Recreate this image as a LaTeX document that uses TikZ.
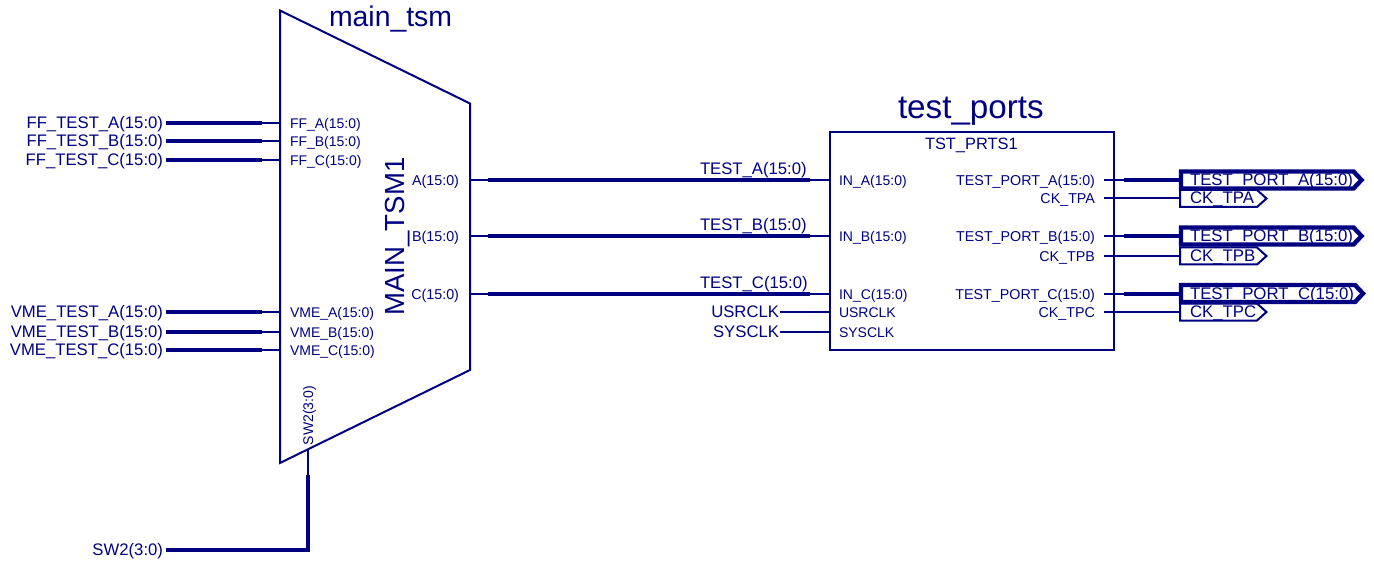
\documentclass[tikz,border=0pt]{standalone}
\usepackage{fontspec}
\setmainfont{Liberation Sans}
\definecolor{navy}{RGB}{0,0,128}
\newcommand{\fsz}[1]{\fontsize{#1pt}{#1pt}\selectfont}
\tikzset{
  lab/.style={text=navy,inner sep=0pt,outer sep=0pt},
  netlab/.style={lab,font=\fsz{16.7},anchor=base east},
  wirelab/.style={lab,font=\fsz{16.7},anchor=base west},
  pinl/.style={lab,font=\fsz{14},anchor=base west},
  pinr/.style={lab,font=\fsz{14.3},anchor=base east},
  thinw/.style={draw=navy,line width=2pt},
  thickw/.style={draw=navy,line width=4pt},
  body/.style={draw=navy,line width=2pt,line join=miter},
  flag/.style={draw=navy,line width=2pt,line join=miter},
  flagb/.style={draw=navy,line width=4.4pt,line join=miter}
}
\begin{document}
\begin{tikzpicture}[x=1pt,y=-1pt]
\useasboundingbox (0,0) rectangle (1374,564);
% symbol bodies
\draw[body] (280,10.5) -- (470,103.5) -- (470,370) -- (280,463) -- cycle;
\node[draw=navy,line width=2pt,inner sep=0pt,outer sep=0pt,minimum width=284pt,minimum height=218pt] (prts) at (972,241) {};
\node[lab,font=\fsz{28.4},anchor=base west] (tsmname) at (329,26.5) {main\_tsm};
\node[lab,font=\fsz{33.2},anchor=base west] (prtsname) at (898,119) {test\_ports};
\node[lab,font=\fsz{16.4},anchor=base west] (prtsinst) at (925,150) {TST\_PRTS1};
\node[lab,font=\fsz{27.6},rotate=90,anchor=base west] (tsminst) at (404,315.5) {MAIN\_TSM1};
% left nets
\foreach \id/\net/\pin/\y in {fa/FF\_TEST\_A/FF\_A/123.5, fb/FF\_TEST\_B/FF\_B/141.5, fc/FF\_TEST\_C/FF\_C/160,
                              va/VME\_TEST\_A/VME\_A/312, vb/VME\_TEST\_B/VME\_B/331.5, vc/VME\_TEST\_C/VME\_C/350}{
  \node[netlab] (n\id) at (163,\y+5.5) {\net(15:0)};
  \node[pinl] (p\id) at (290,\y+5.5) {\pin(15:0)};
  \coordinate (s\id) at (166,\y);
  \coordinate (m\id) at (262,\y);
  \coordinate (e\id) at (280,\y);
  \draw[thickw] (s\id) -- (m\id);
  \draw[thinw] (m\id) -- (e\id);
}
% middle nets
\foreach \id/\pin/\net/\y/\ty/\tz in {a/A/TEST\_A/180/186/175, b/B/TEST\_B/236/242/231, c/C/TEST\_C/294/299/288}{
  \node[pinr] (o\id) at (459,\ty) {\pin(15:0)};
  \node[pinl] (i\id) at (839,\ty) {IN\_\pin(15:0)};
  \node[wirelab] (w\id) at (700,\tz) {\net(15:0)};
  \coordinate (x\id) at (470,\y);
  \coordinate (y\id) at (488,\y);
  \coordinate (z\id) at (810,\y);
  \coordinate (t\id) at (830,\y);
  \draw[thinw] (x\id) -- (y\id);
  \draw[thickw] (y\id) -- (z\id);
  \draw[thinw] (z\id) -- (t\id);
}
% clock inputs
\foreach \id/\txt/\y in {u/USRCLK/312, s/SYSCLK/331.5}{
  \node[netlab] (c\id) at (779,\y+5.5) {\txt};
  \node[pinl] (d\id) at (839,\y+5.5) {\txt};
  \coordinate (f\id) at (780,\y);
  \coordinate (g\id) at (830,\y);
  \draw[thinw] (f\id) -- (g\id);
}
% output ports
\foreach \id/\ltr/\y/\yy/\w in {a/A/180/198.5/1361.5, b/B/236/256/1361.5, c/C/293.5/312/1363}{
  \node[pinr] (q\id) at (1095,\y+5.5) {TEST\_PORT\_\ltr(15:0)};
  \coordinate (qs\id) at (1104,\y);
  \coordinate (qm\id) at (1124,\y);
  \coordinate (qe\id) at (1181,\y);
  \draw[thinw] (qs\id) -- (qm\id);
  \draw[thickw] (qm\id) -- (qe\id);
  \draw[flagb] (qe\id) ++(0,-8.5) -- (\w-8,\y-8.5) -- (\w,\y) -- (\w-8,\y+8.5) -- (1181,\y+8.5) -- cycle;
  \node[lab,font=\fsz{16.8},anchor=base west] (tp\id) at (1190,\y+5.5) {TEST\_PORT\_\ltr(15:0)};
  % clock out
  \node[pinr] (k\id) at (1095,\yy+5.5) {CK\_TP\ltr};
  \coordinate (ks\id) at (1104,\yy);
  \coordinate (ke\id) at (1180,\yy);
  \draw[thinw] (ks\id) -- (ke\id);
  \draw[flag] (ke\id) ++(0,-8.5) -- (1257,\yy-8.5) -- (1266.5,\yy) -- (1257,\yy+8.5) -- (1180,\yy+8.5) -- cycle;
  \node[lab,font=\fsz{16.8},anchor=base west] (kl\id) at (1190,\yy+5.5) {CK\_TP\ltr};
}
% SW2 bus
\node[lab,font=\fsz{14},rotate=90,anchor=base west] (swp) at (313,445) {SW2(3:0)};
\node[netlab] (swn) at (163,555) {SW2(3:0)};
\coordinate (sw0) at (308,449);
\coordinate (sw1) at (308,475);
\coordinate (sw2) at (308,549.5);
\coordinate (sw3) at (166,549.5);
\draw[thinw] (sw0) -- (sw1);
\draw[thickw,line join=miter] (sw1) -- (sw2) -- (sw3);
\end{tikzpicture}
\end{document}
